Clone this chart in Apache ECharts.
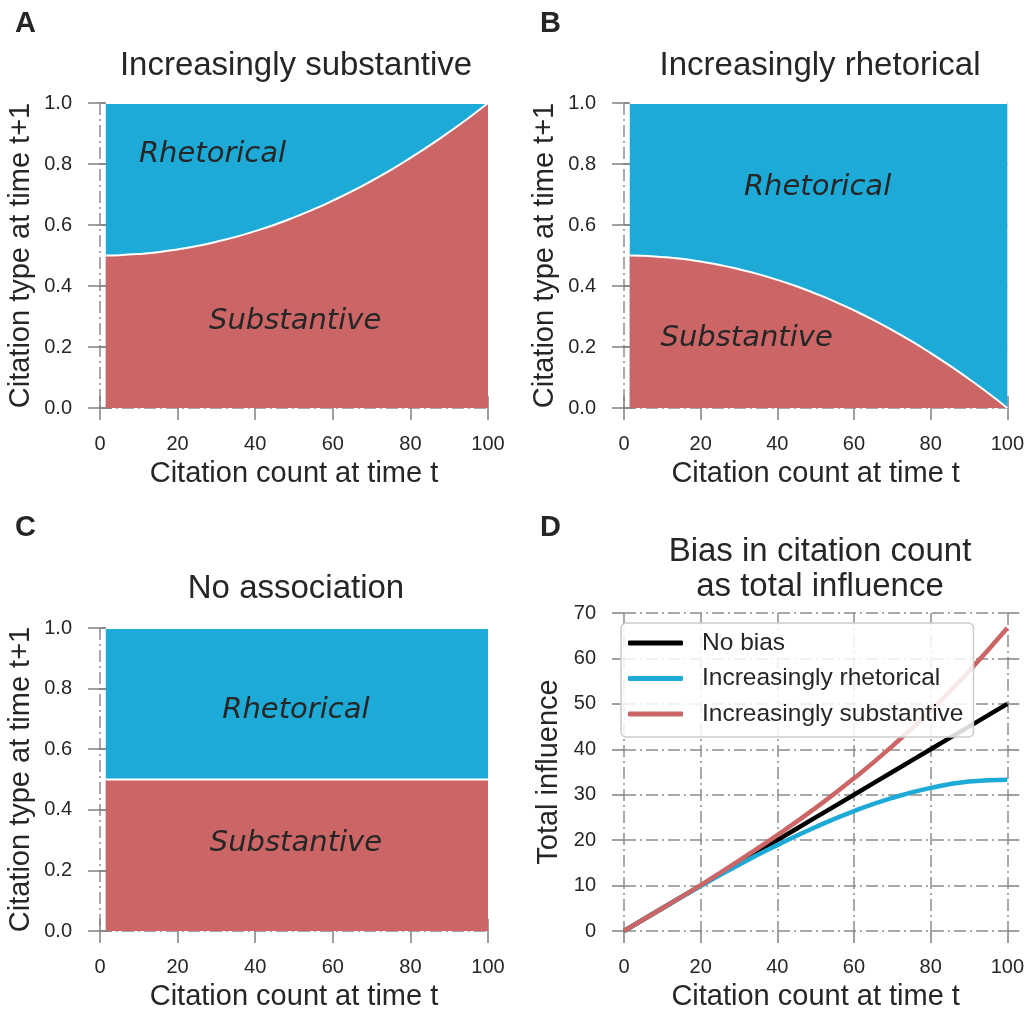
<!DOCTYPE html>
<html>
<head>
<meta charset="utf-8">
<script src="https://cdn.jsdelivr.net/npm/echarts@6/dist/echarts.min.js"></script>
<style>
  html, body { margin: 0; padding: 0; background: #fff; }
  #ec { width: 1027px; height: 1012px; }
</style>
</head>
<body>
<div id="ec"></div>
<script>
// x positions (citation count at time t) for the area panels
const countX = [1.5, 5, 10, 15, 20, 25, 30, 35, 40, 45, 50, 55, 60, 65, 70, 75, 80, 85, 90, 95, 100]
// boundary between substantive (below) and rhetorical (above)
const substA = [0.5, 0.501, 0.505, 0.511, 0.52, 0.531, 0.545, 0.561, 0.58, 0.601, 0.625, 0.651, 0.68, 0.711, 0.745, 0.781, 0.82, 0.861, 0.905, 0.951, 1.0]
const substB = [0.5, 0.499, 0.495, 0.489, 0.48, 0.469, 0.455, 0.439, 0.42, 0.399, 0.375, 0.349, 0.32, 0.289, 0.255, 0.219, 0.18, 0.139, 0.095, 0.049, 0.0]
const substC = [0.5, 0.5, 0.5, 0.5, 0.5, 0.5, 0.5, 0.5, 0.5, 0.5, 0.5, 0.5, 0.5, 0.5, 0.5, 0.5, 0.5, 0.5, 0.5, 0.5, 0.5]
const topLine = [1, 1, 1, 1, 1, 1, 1, 1, 1, 1, 1, 1, 1, 1, 1, 1, 1, 1, 1, 1, 1]

// panel D
const influenceX = [0, 10, 20, 30, 40, 50, 60, 70, 80, 90, 100]
const noBias = [0, 5, 10, 15, 20, 25, 30, 35, 40, 45, 50]
const incRhetorical = [0, 5.0, 9.9, 14.6, 18.9, 22.9, 26.4, 29.3, 31.5, 32.9, 33.3]
const incSubstantive = [0, 5.0, 10.1, 15.5, 21.1, 27.1, 33.6, 40.7, 48.5, 57.2, 66.7]

const titles = ['Increasingly substantive', 'Increasingly rhetorical', 'No association']

const BLUE = '#1eaad6'
const RED = '#cc6666'
const TXT = '#262626'
const TICK = '#808080'
const GRIDC = '#8c8c8c'
const NONE = 'rgba(0,0,0,0)'
const DASHDOT = [12, 4, 2, 4]
const SANS = 'Liberation Sans, Arial, sans-serif'

const pairs = (xs, ys) => xs.map((x, i) => [x, ys[i]])

const tickStyle = { show: true, inside: false, length: 12, lineStyle: { color: TICK, width: 1.5 } }
const gridLine = color => ({ show: true, lineStyle: { color: color, width: 1.5, type: DASHDOT } })

function xPair(g, withTop) {
  // area panels: the x=100 grid line sits under the fill edge, so it is hidden
  const xGridColor = withTop ? [GRIDC, GRIDC, GRIDC, GRIDC, GRIDC, NONE] : GRIDC
  const axes = [{
    gridIndex: g, type: 'value', position: 'bottom', min: 0, max: 100, interval: 20,
    axisLine: { show: false }, axisTick: tickStyle,
    axisLabel: { fontSize: 20, color: TXT, margin: 26, fontFamily: SANS },
    splitLine: gridLine(xGridColor),
    name: 'Citation count at time t', nameLocation: 'middle', nameGap: 51,
    nameTextStyle: { fontSize: 29, color: TXT, fontFamily: SANS }
  }]
  if (withTop) {
    axes.push({
      gridIndex: g, type: 'value', position: 'top', min: 0, max: 100, interval: 20,
      axisLine: { show: false }, axisTick: tickStyle,
      axisLabel: { show: false }, splitLine: { show: false }
    })
  }
  return axes
}

function yPair(g, max, interval, name, gap, fmt) {
  return [{
    gridIndex: g, type: 'value', position: 'left', min: 0, max: max, interval: interval,
    axisLine: { show: false }, axisTick: tickStyle,
    axisLabel: { fontSize: 20, color: TXT, margin: 28, fontFamily: SANS, formatter: fmt },
    splitLine: gridLine(GRIDC),
    name: name, nameLocation: 'middle', nameGap: gap,
    nameTextStyle: { fontSize: 29, color: TXT, fontFamily: SANS }
  }, {
    gridIndex: g, type: 'value', position: 'right', min: 0, max: max, interval: interval,
    axisLine: { show: false }, axisTick: tickStyle,
    axisLabel: { show: false }, splitLine: { show: false }
  }]
}

const fmt1 = v => v.toFixed(1)
const yName = 'Citation type at time t+1'

let xAxis = [], yAxis = []
for (let g = 0; g < 3; g++) {
  xAxis = xAxis.concat(xPair(g, true))
  yAxis = yAxis.concat(yPair(g, 1, 0.2, yName, 65, fmt1))
}
xAxis = xAxis.concat(xPair(3, false))
yAxis = yAxis.concat(yPair(3, 70, 10, 'Total influence', 61, v => v))

function areaLabel(text, coord) {
  return {
    silent: true, symbol: 'circle', symbolSize: 0,
    label: {
      show: true, position: 'inside', formatter: text,
      fontFamily: 'DejaVu Sans', fontStyle: 'italic', fontSize: 29, color: TXT
    },
    data: [{ coord: coord }]
  }
}

function areaSeries(g, name, ys, color, label) {
  return {
    name: name, type: 'line', xAxisIndex: g * 2, yAxisIndex: g * 2,
    data: pairs(countX, ys), smooth: true, showSymbol: false, silent: true,
    lineStyle: { color: '#fff', width: 2 },
    areaStyle: { color: color, opacity: 1 },
    markPoint: label
  }
}

const series = [
  areaSeries(0, 'A top', topLine, BLUE, areaLabel('Rhetorical', [29, 0.83])),
  areaSeries(0, 'A sub', substA, RED, areaLabel('Substantive', [50.3, 0.285])),
  areaSeries(1, 'B top', topLine, BLUE, areaLabel('Rhetorical', [50.5, 0.724])),
  areaSeries(1, 'B sub', substB, RED, areaLabel('Substantive', [32, 0.229])),
  areaSeries(2, 'C top', topLine, BLUE, areaLabel('Rhetorical', [50.5, 0.729])),
  areaSeries(2, 'C sub', substC, RED, areaLabel('Substantive', [50.5, 0.289]))
]

const lineDefs = [
  ['No bias', noBias, '#000000'],
  ['Increasingly rhetorical', incRhetorical, BLUE],
  ['Increasingly substantive', incSubstantive, RED]
]
lineDefs.forEach(([name, ys, color]) => {
  series.push({
    name: name, type: 'line', xAxisIndex: 6, yAxisIndex: 6,
    data: pairs(influenceX, ys), smooth: true, showSymbol: false,
    color: color,
    lineStyle: { color: color, width: 4.5 }
  })
})

function txt(text, x, y, size, bold, align) {
  return {
    type: 'text', x: x, y: y, silent: true,
    style: {
      text: text, fill: TXT, font: (bold ? 'bold ' : '') + size + 'px ' + SANS,
      textAlign: align || 'center', textVerticalAlign: 'middle',
      align: align || 'center', verticalAlign: 'middle'
    }
  }
}

const chart = echarts.init(document.getElementById('ec'))
chart.setOption({
  animation: false,
  backgroundColor: '#fff',
  grid: [
    { left: 100, top: 103, width: 388, height: 305 },
    { left: 624, top: 103, width: 388, height: 305 },
    { left: 100, top: 628, width: 388, height: 304 },
    { left: 624, top: 613, width: 388, height: 320 }
  ],
  xAxis: xAxis,
  yAxis: yAxis,
  legend: {
    data: lineDefs.map(d => d[0]),
    orient: 'vertical', left: 621, top: 623,
    icon: 'roundRect', itemWidth: 55, itemHeight: 5, itemGap: 9.5,
    padding: [7, 10, 10, 7],
    backgroundColor: 'rgba(255,255,255,0.85)',
    borderColor: '#cccccc', borderWidth: 1.5, borderRadius: 5,
    selectedMode: false,
    textStyle: { fontSize: 24.5, lineHeight: 26, color: TXT, fontFamily: SANS, padding: [0, 0, 0, 14] }
  },
  graphic: [
    txt('A', 15, 24, 29, true, 'left'),
    txt('B', 540, 24, 29, true, 'left'),
    txt('C', 15, 528, 29, true, 'left'),
    txt('D', 540, 528, 29, true, 'left'),
    txt(titles[0], 296, 66, 33),
    txt(titles[1], 820, 66, 33),
    txt(titles[2], 296, 589, 33),
    txt('Bias in citation count', 820, 552, 33),
    txt('as total influence', 820, 587, 33)
  ],
  series: series
})
</script>
</body>
</html>
